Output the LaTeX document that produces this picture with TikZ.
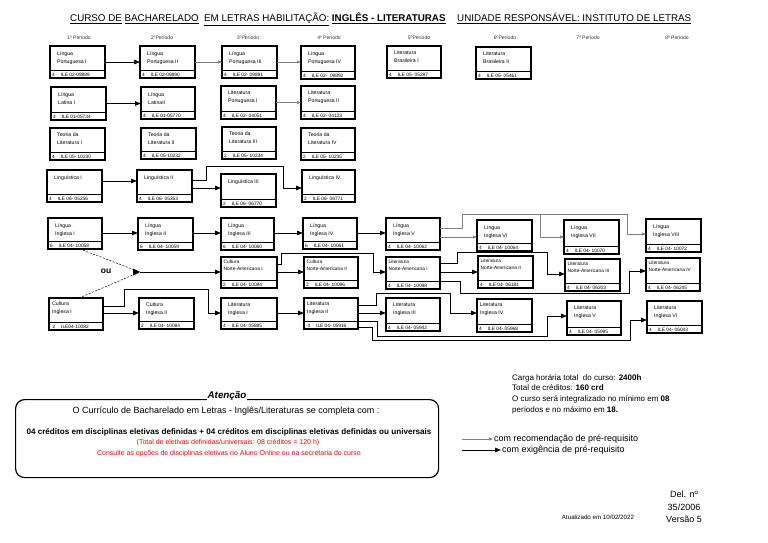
\documentclass[tikz,border=0pt]{standalone}
\usepackage{fontspec}
\setmainfont{Liberation Sans}
\usetikzlibrary{arrows.meta,calc}
\tikzset{
  cbx/.style={draw, line width=1.3pt, inner sep=0pt, outer sep=0pt},
  ttl/.style={font=\fontsize{5.2}{8}\selectfont, align=left, inner sep=0pt, anchor=north west, xshift=7pt, yshift=-5pt},
  ttlc/.style={font=\fontsize{5.2}{8}\selectfont, align=left, inner sep=0pt, anchor=north west, xshift=3pt, yshift=-4pt},
  ttls/.style={font=\fontsize{4.8}{7}\selectfont, align=left, inner sep=0pt, anchor=north west, xshift=2.5pt, yshift=-3pt},
  cd/.style={font=\fontsize{4.8}{5}\selectfont, inner sep=0pt, anchor=base west},
  req/.style={line width=0.9pt, -{Triangle[length=6pt,width=4.5pt]}},
  rec/.style={line width=0.6pt, draw=black!50, -{Triangle[length=4pt,width=3pt]}},
  dsh/.style={line width=0.5pt, dash pattern=on 2pt off 1.5pt},
  per/.style={font=\fontsize{5}{6}\selectfont, text=black!80, inner sep=0pt},
}
% name, x, y, w, h, title, credits, code, title style
\newcommand\cbox[9]{%
  \node[cbx, minimum width=#4pt, minimum height=#5pt, anchor=north west] (#1) at (#2,#3) {};
  \draw[line width=0.6pt] ([yshift=7.5pt]#1.south west) -- ([yshift=7.5pt]#1.south east);
  \node[#9] at (#1.north west) {#6};
  \node[cd] at ([shift={(2pt,1.7pt)}]#1.south west) {#7\hspace{6pt}#8};
}
\begin{document}
\begin{tikzpicture}[x=1pt,y=-1pt]
\fill[white] (0,0) rectangle (768,543);
\useasboundingbox (0,0) rectangle (768,543);

% title
\node[anchor=base west, font=\fontsize{9.8}{11}\selectfont, inner sep=0pt] (t1) at (70,22)
  {\underline{CURSO DE} \underline{BACHARELADO}\ \ \underline{EM LETRAS HABILITAÇÃO:} \underline{\textbf{INGLÊS - LITERATURAS}}};
\node[anchor=base west, font=\fontsize{9.8}{11}\selectfont, inner sep=0pt] (t2) at (457,22)
  {\underline{UNIDADE RESPONSÁVEL: INSTITUTO DE LETRAS}};

% periods
\node[per] (p1) at (79,38) {1º Período};
\node[per] (p2) at (162,38) {2ºPeríodo};
\node[per] (p3) at (248,38) {3ºPeríodo};
\node[per] (p4) at (329,38) {4º Período};
\node[per] (p5) at (419,38) {5ºPeríodo};
\node[per] (p6) at (505,38) {6ºPeríodo};
\node[per] (p7) at (588,38) {7º Período};
\node[per] (p8) at (677,38) {8º Período};

% row 1
\cbox{lp1}{50}{46}{55}{32}{Língua\\Portuguesa I}{4}{ILE 02-09889}{ttl}
\cbox{lp2}{140}{46}{55}{32}{Língua\\Portuguesa II}{4}{ILE 02-09890}{ttl}
\cbox{lp3}{222}{46}{55}{32}{Língua\\Portuguesa III}{4}{ILE 02- 09891}{ttl}
\cbox{lp4}{301}{46}{54}{33}{Língua\\Portuguesa IV}{4}{ILE 02-\ \ 09892}{ttl}
\cbox{lb1}{387}{46}{54}{32}{Literatura\\Brasileira I}{4}{ILE 05- 05287}{ttl}
\cbox{lb2}{476}{47}{55}{32}{Literatura\\Brasileira II}{4}{ILE 05- 05461}{ttl}

% row 2
\cbox{la1}{51}{87}{55}{33}{Língua\\Latina I}{4}{ILE 01-05734}{ttl}
\cbox{la2}{141}{87}{54}{32}{Língua\\LatinaII}{4}{ILE 01-05770}{ttl}
\cbox{lpo1}{221}{86}{55}{33}{Literatura\\Portuguesa I}{4}{ILE 02- 04051}{ttl}
\cbox{lpo2}{301}{86}{54}{33}{Literatura\\Portuguesa II}{4}{ILE 02- 04123}{ttl}

% row 3
\cbox{tl1}{50}{128}{55}{32}{Teoria da\\Literatura I}{4}{ILE 05- 10230}{ttl}
\cbox{tl2}{141}{128}{55}{31}{Teoria da\\Literatura II}{4}{ILE 05-10232}{ttl}
\cbox{tl3}{222}{127}{54}{32}{Teoria da\\Literatura III}{2}{ILE 05- 10234}{ttl}
\cbox{tl4}{301}{128}{54}{32}{Teoria da\\Literatura IV}{2}{ILE 05- 10235}{ttl}

% row 4
\cbox{lg1}{47}{170}{55}{32}{Linguística I}{4}{ILE 06- 05256}{ttl}
\cbox{lg2}{137}{170}{55}{32}{Linguística II}{4}{ILE 06- 05353}{ttl}
\cbox{lg3}{221}{174}{55}{33}{Linguística III}{2}{ILE 06- 06770}{ttl}
\cbox{lg4}{302}{170}{53}{32}{Linguística IV}{2}{ILE 06- 06771}{ttl}

% row 5
\cbox{li1}{48}{218}{54}{31}{Língua\\Inglesa I}{6}{ILE 04- 10058}{ttl}
\cbox{li2}{138}{218}{55}{32}{Língua\\Inglesa II}{6}{ILE 04- 10059}{ttl}
\cbox{li3}{221}{218}{53}{32}{Língua\\Inglesa III}{6}{ILE 04- 10060}{ttl}
\cbox{li4}{303}{218}{54}{31}{Língua\\Inglesa IV}{6}{ILE 04- 10061}{ttl}
\cbox{li5}{386}{218}{54}{32}{Língua\\Inglesa V}{4}{ILE 04- 10062}{ttl}
\cbox{li6}{477}{220}{55}{31}{Língua\\Inglesa VI}{4}{ILE 04- 10064}{ttl}
\cbox{li7}{564}{220}{55}{34}{Língua\\Inglesa VII}{4}{ILE 04- 10070}{ttl}
\cbox{li8}{646}{219}{55}{33}{Língua\\Inglesa VIII}{4}{ILE 04- 10072}{ttl}

% row 6
\cbox{cna1}{221}{257}{56}{31}{Cultura\\Norte-Americana I}{2}{ILE 04- 10094}{ttls}
\cbox{cna2}{304}{257}{54}{31}{Cultura\\Norte-Americana II}{2}{ILE 04- 10096}{ttls}
\cbox{lna1}{386}{257}{54}{32}{Literatura\\Norte-Americana I}{4}{ILE 04- 10098}{ttls}
\cbox{lna2}{478}{256}{55}{32}{Literatura\\Norte-Americana II}{4}{ILE 04- 06181}{ttls}
\cbox{lna3}{565}{259}{55}{32}{Literatura\\Norte-Americana III}{4}{ILE 04- 06203}{ttls}
\cbox{lna4}{646}{258}{54}{33}{Literatura\\Norte-Americana IV}{4}{ILE 04- 06245}{ttls}

% row 7
\cbox{ci1}{49}{298}{54}{32}{Cultura\\Inglesa I}{\ 2}{ILE04-10082}{ttlc}
\cbox{ci2}{139}{298}{55}{31}{Cultura\\Inglesa II}{2}{ILE 04- 10084}{ttl}
\cbox{lit1}{221}{298}{56}{31}{Literatura\\Inglesa I}{4}{ILE 04- 05885}{ttl}
\cbox{lit2}{304}{298}{54}{31}{Literatura\\Inglesa II}{\ 4}{ILE 04- 05916}{ttlc}
\cbox{lit3}{386}{298}{54}{33}{Literatura\\Inglesa III}{4}{ILE 04- 05942}{ttl}
\cbox{lit4}{477}{299}{55}{33}{Literatura\\Inglesa IV}{4}{ILE 04- 05968}{ttlc}
\cbox{lit5}{567}{301}{54}{34}{Literatura\\Inglesa V}{4}{ILE 04- 05995}{ttl}
\cbox{lit6}{647}{301}{55}{32}{Literatura\\Inglesa VI}{4}{ILE 04- 06043}{ttl}

% connectors row 1-2
\draw[req] (lp1.east) -- (lp1.east -| lp2.west);
\draw[rec] (lp2.east) -- (lp2.east -| lp3.west);
\draw[rec] (lp3.east) -- (lp3.east -| lp4.west);
\draw[req] (la1.east) -- (la1.east -| la2.west);
\draw[rec] (lpo1.east) -- (lpo1.east -| lpo2.west);

% row 4
\draw[req] (lg1.east |- 0,181) -- (lg2.west |- 0,181);
\draw[req] (lg2.east |- 0,188) -- (lg3.west |- 0,188);
\draw[req] (lg2.east |- 0,180) -| (206,166) -| (283,188) -- (lg4.west |- 0,188);

% row 5
\draw[req] (li1.east |- 0,233) -- (li2.west |- 0,233);
\draw[req] (li2.east |- 0,233) -- (li3.west |- 0,233);
\draw[req] (li3.east |- 0,233) -- (li4.west |- 0,233);
\draw[req] (li4.east |- 0,233) -- (li5.west |- 0,233);
\draw[rec] (li5.east |- 0,237) -- (li6.west |- 0,237);
\draw[rec] (li5.east |- 0,228) -| (462,214) -| (627,234) -- (li8.west |- 0,234);
\draw[rec] (li5.east |- 0,228) -| (462,214) -| (540,237) -- (li7.west |- 0,237);

% merge "ou"
\coordinate (mg) at (140,272);
\node[font=\bfseries\fontsize{8.5}{9}\selectfont, inner sep=0pt] (ou) at (106,271) {ou};
\draw[dsh] ([xshift=5pt]li1.south) -- (mg);
\draw[dsh] ([xshift=3pt]ci1.north) -- (mg);
\fill (mg) -- ++(-7,-3.5) -- ++(0,7) -- cycle;
\draw[req] (mg) -- (cna1.west |- mg);

% row 6
\draw[req] (cna1.east |- 0,272) -- (cna2.west |- 0,272);
\draw[req] (cna1.east |- 0,264) -| (281,253) -| (373,272) -- (lna1.west |- 0,272);
\draw[req] (lna1.east |- 0,272) -- (lna2.west |- 0,272);
\draw[req] (lna1.east |- 0,263) -| (457,252) -| (547,274) -- (lna3.west |- 0,274);
\draw[req] (lna1.east |- 0,281) -| (460,293) -| (629,271) -- (lna4.west |- 0,271);

% row 7
\draw[req] (ci1.east |- 0,313) -- (ci2.west |- 0,313);
\draw[req] (ci1.east |- 0,306) -| (124,289) -| (208,313) -- (lit1.west |- 0,313);
\draw[req] (lit1.east |- 0,313) -- (lit2.west |- 0,313);
\draw[req] (lit2.east |- 0,313) -- (lit3.west |- 0,313);
\draw[req] (lit2.east |- 0,305) -| (376,293) -| (450,313) -- (lit4.west |- 0,313);
\draw[req] (lit2.east |- 0,321) -| (377,336) -| (547,316) -- (lit5.west |- 0,316);
\draw[req] (lit2.east |- 0,327) -| (372,340) -| (630,320) -- (lit6.west |- 0,320);

% Atencao box
\node[draw, line width=1.2pt, rounded corners=9pt, minimum width=423pt, minimum height=78pt, anchor=north west, inner sep=0pt] (att) at (15,399) {};
\node[fill=white, font=\bfseries\itshape\fontsize{9.8}{11}\selectfont, inner sep=1pt] (atl) at (227,396) {Atenção};
\node[font=\fontsize{9}{10}\selectfont, inner sep=0pt] (a1) at (226,411) {O Currículo de Bacharelado em Letras - Inglês/Literaturas se completa com :};
\node[font=\bfseries\fontsize{8.1}{9}\selectfont, inner sep=0pt] (a2) at (229,432) {04 créditos em disciplinas eletivas definidas + 04 créditos em disciplinas eletivas definidas ou universais};
\node[text=red, font=\fontsize{7}{8}\selectfont, inner sep=0pt] (a3) at (228,443) {(Total de eletivas definidas/universais: 08 créditos = 120 h)};
\node[text=red, font=\fontsize{7}{8}\selectfont, inner sep=0pt] (a4) at (229,454) {Consulte as opções de disciplinas eletivas no Aluno Online ou na secretaria do curso};

% right info
\node[anchor=north west, align=left, font=\fontsize{8}{10.7}\selectfont, inner sep=0pt] (info) at (512,374)
 {Carga horária total\ \ do curso: \textbf{2400h}\\Total de créditos: \textbf{160 crd}\\O curso será integralizado no mínimo em \textbf{08}\\períodos e no máximo em \textbf{18.}};

% legend
\coordinate (lgs1) at (462,439);
\coordinate (lgs2) at (462,450);
\node[anchor=west, font=\fontsize{9}{10}\selectfont, inner sep=1pt] (rectxt) at (493,439) {com recomendação de pré-requisito};
\node[anchor=west, font=\fontsize{9}{10}\selectfont, inner sep=1pt] (reqtxt) at (501,450) {com exigência de pré-requisito};
\draw[rec] (lgs1) -- (rectxt.west);
\draw[req] (lgs2) -- (reqtxt.west);

\node[align=center, font=\fontsize{9}{12.5}\selectfont, inner sep=0pt] (del) at (684,507) {Del. nº\\35/2006\\Versão 5};
\node[font=\fontsize{6.2}{7}\selectfont, inner sep=0pt] (upd) at (598,517) {Atualizado em 10/02/2022};
\end{tikzpicture}
\end{document}
